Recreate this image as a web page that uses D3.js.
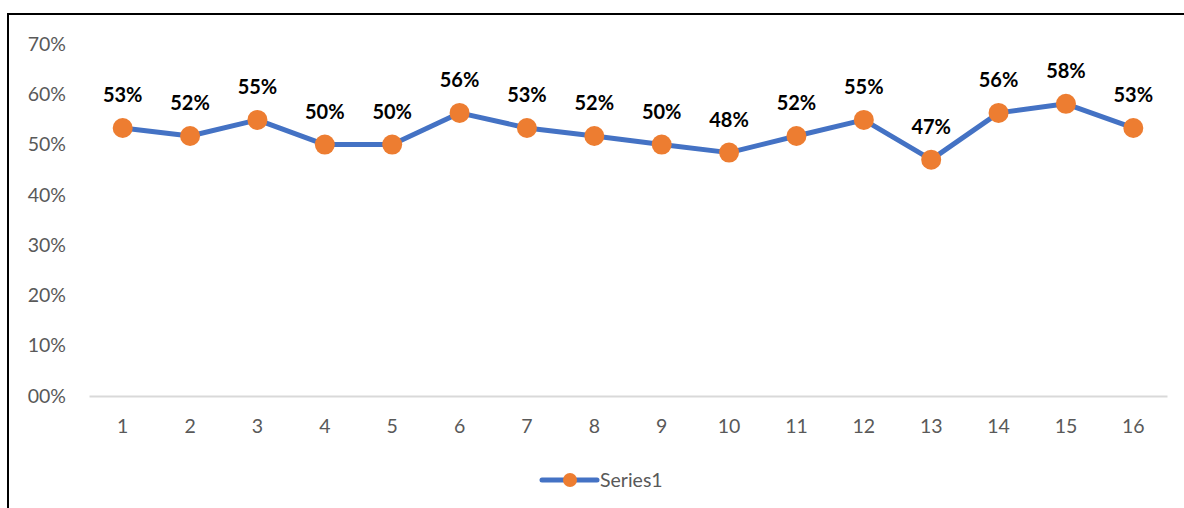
<!DOCTYPE html>
<html><head><meta charset="utf-8">
<script src="https://cdn.jsdelivr.net/npm/d3@7"></script>
<style>body{margin:0;background:#fff}svg{display:block}</style>
</head><body>
<svg id="c" width="1184" height="508"></svg>
<script>
const categories = ["1","2","3","4","5","6","7","8","9","10","11","12","13","14","15","16"];
const series1 = [0.533,0.517,0.549,0.50,0.50,0.563,0.533,0.517,0.50,0.484,0.517,0.549,0.47,0.563,0.581,0.533];
const yTicks = [0,0.1,0.2,0.3,0.4,0.5,0.6,0.7];
const yTickLabels = ["00%","10%","20%","30%","40%","50%","60%","70%"];
const seriesName = "Series1";

const svg = d3.select("#c");
const font = "Lato, 'Open Sans', sans-serif";
svg.append("rect").attr("x",8).attr("y",14).attr("width",1200).attr("height",520)
  .attr("fill","#fff").attr("stroke","#000").attr("stroke-width",2);

const x = d3.scaleBand().domain(categories).range([89,1167]);
const y = d3.scaleLinear().domain([0,0.7]).range([396,44]);

// y axis labels
const ya = svg.append("g").attr("transform","translate(66,0)")
  .call(d3.axisLeft(y).tickValues(yTicks).tickFormat((d,i)=>yTickLabels[i]).tickSize(0).tickPadding(0));
ya.select(".domain").remove();
ya.selectAll("text").attr("font-family",font).attr("font-size",19.5).attr("fill","#595959");

// x axis
const xa = svg.append("g").attr("transform","translate(0,396)")
  .call(d3.axisBottom(x).tickSize(0).tickPadding(23));
xa.select(".domain").attr("stroke","#d9d9d9").attr("stroke-width",2);
xa.selectAll("text").attr("font-family",font).attr("font-size",19.5).attr("fill","#595959");

const cx = d => x(d) + x.bandwidth()/2;
const line = d3.line().x((d,i)=>cx(categories[i])).y(d=>y(d));
svg.append("path").datum(series1).attr("d",line).attr("fill","none")
  .attr("stroke","#4472C4").attr("stroke-width",5).attr("stroke-linejoin","round");

svg.selectAll("circle.pt").data(series1).enter().append("circle").attr("class","pt")
  .attr("cx",(d,i)=>cx(categories[i])).attr("cy",d=>y(d)).attr("r",10).attr("fill","#ED7D31");

svg.selectAll("text.lbl").data(series1).enter().append("text").attr("class","lbl")
  .attr("x",(d,i)=>cx(categories[i])).attr("y",d=>y(d)-26)
  .attr("text-anchor","middle").attr("font-family",font).attr("font-weight","bold")
  .attr("font-size",20).attr("fill","#000").text(d=>Math.round(d*100)+"%");

// legend
const lg = svg.append("g");
lg.append("line").attr("x1",542).attr("x2",597).attr("y1",480).attr("y2",480)
  .attr("stroke","#4472C4").attr("stroke-width",5).attr("stroke-linecap","round");
lg.append("circle").attr("cx",570).attr("cy",480).attr("r",7).attr("fill","#ED7D31");
lg.append("text").attr("x",600).attr("y",487).attr("font-family",font).attr("font-size",19.5)
  .attr("fill","#595959").text(seriesName);
</script>
</body></html>
